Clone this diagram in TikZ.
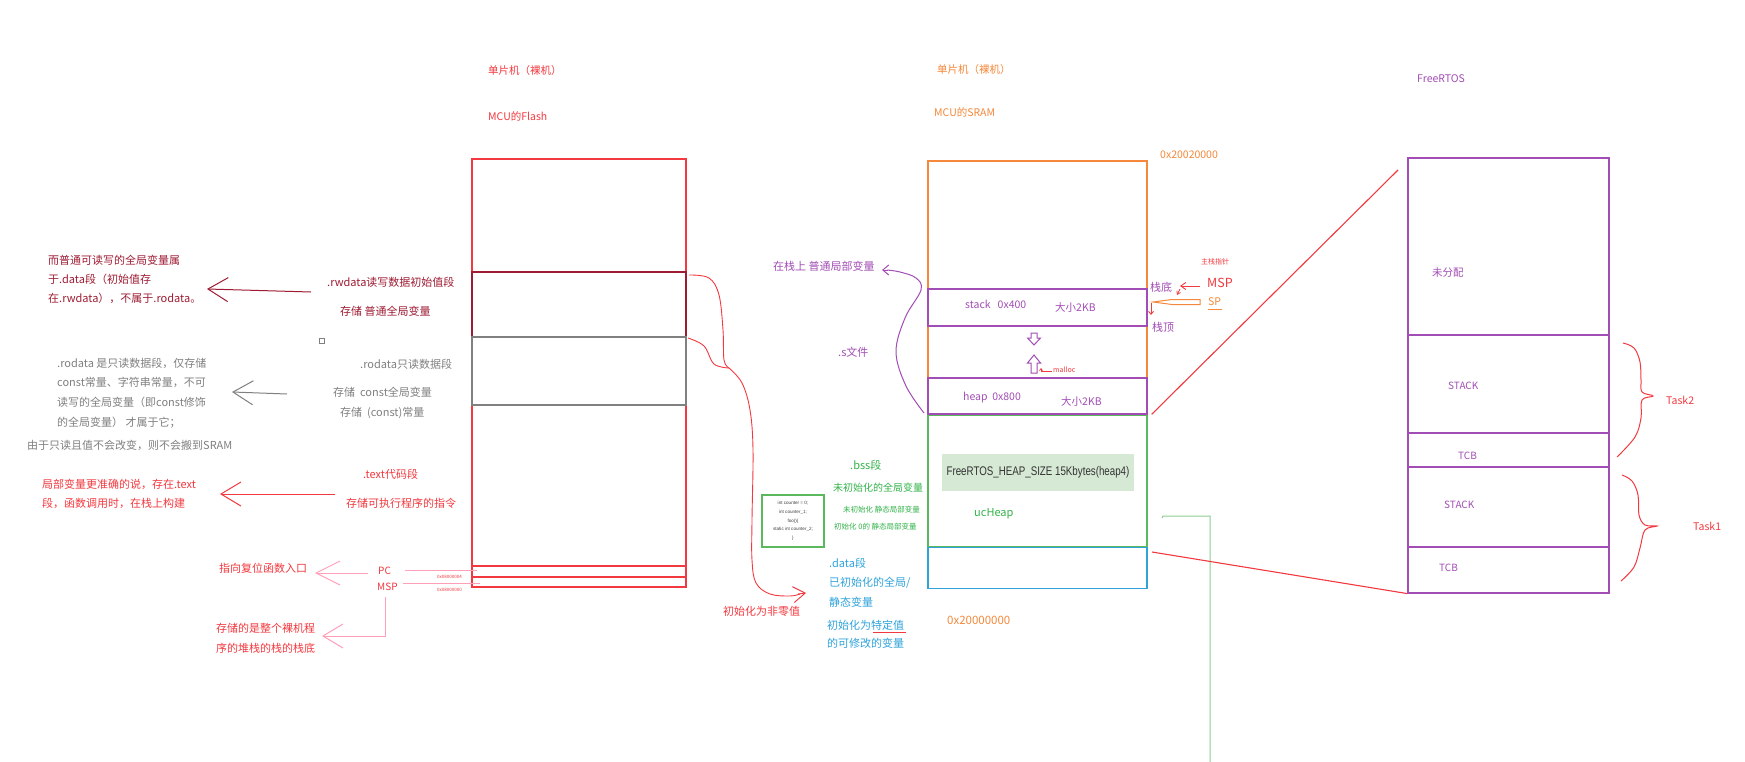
\documentclass[tikz,border=0pt]{standalone}
\usepackage{fontspec}
\setmainfont{Noto Sans CJK SC}
\newfontfamily\narrowfont{Liberation Sans}
\usetikzlibrary{arrows.meta}
\definecolor{cred}{HTML}{F2393F}
\definecolor{cdred}{HTML}{9E1B32}
\definecolor{cgray}{HTML}{808080}
\definecolor{corange}{HTML}{F5883A}
\definecolor{cpurple}{HTML}{A24DB5}
\definecolor{cgreen}{HTML}{5BB85D}
\definecolor{ctgreen}{HTML}{33B34A}
\definecolor{cblue}{HTML}{2FA3DA}
\definecolor{cpink}{HTML}{FF9FB8}
\definecolor{cfill}{HTML}{D6E9D5}
\newcommand\fsz[1]{\fontsize{#1}{#1}\selectfont}
\begin{document}
\begin{tikzpicture}[x=1pt,y=-1pt,
  lbl/.style={anchor=west, inner sep=0pt, font=\fsz{11}},
  small/.style={anchor=west, inner sep=0pt, font=\fsz{7.5}},
  tiny/.style={anchor=west, inner sep=0pt, font=\fsz{4.5}},
  region/.style={draw=#1, line width=1.4pt, inner sep=0pt},
  sketch/.style={line width=1pt, -{Straight Barb[length=#1pt,width=24pt]}},
  sketch/.default=20,
  hollow/.style={draw=cpurple, line width=1pt, line join=miter}
]
\useasboundingbox (0,0) rectangle (1745,762);
\fill[white] (0,0) rectangle (1745,762);

% ---------------- Flash ----------------
\node[lbl, text=cred, font=\fsz{10.5}] (flashT1) at (488,71) {单片机（裸机）};
\node[lbl, text=cred, font=\fsz{10.5}] (flashT2) at (488,116) {MCU的Flash};
\node[region=cred, minimum width=214pt, minimum height=428pt] (flash) at (579,373) {};
\node[region=cdred, minimum width=214pt, minimum height=65pt] (rwdata) at (579,304.5) {};
\node[region=cgray, minimum width=214pt, minimum height=68pt] (rodata) at (579,371) {};
\coordinate (fl1) at (472,566); \coordinate (fr1) at (686,566);
\coordinate (fl2) at (472,577); \coordinate (fr2) at (686,577);
\draw[cred, line width=1.4pt] (fl1) -- (fr1);
\draw[cred, line width=1.4pt] (fl2) -- (fr2);
\node[tiny, text=cred] (addr4) at (437,577) {0x08000004};
\node[tiny, text=cred] (addr0) at (437,590) {0x08000000};

% rwdata labels
\node[lbl, text=cdred] (rwT1) at (327,282) {.rwdata读写数据初始值段};
\node[lbl, text=cdred] (rwT2) at (340,311) {存储 普通全局变量};
\node[anchor=west, inner sep=0pt, align=left, text=cdred, font=\fontsize{11}{19}\selectfont] (rwNote) at (48,279)
  {而普通可读写的全局变量属\\于.data段（初始值存\\在.rwdata），不属于.rodata。};
\coordinate (a1s) at (311,292); \coordinate (a1e) at (207,289);
\draw[cdred, sketch] (a1s) -- (a1e);
\node[draw=cgray, line width=0.6pt, minimum size=5pt, inner sep=0pt] (sq) at (322,341) {};

% rodata labels
\node[lbl, text=cgray] (roT1) at (360,364) {.rodata只读数据段};
\node[lbl, text=cgray] (roT2) at (333,392) {存储\ \ const全局变量};
\node[lbl, text=cgray] (roT3) at (340,413) {存储\ \ (const)常量};
\node[anchor=west, inner sep=0pt, align=left, text=cgray, font=\fontsize{11}{19.7}\selectfont] (roNote) at (57,393)
  {.rodata 是只读数据段，仅存储\\const常量、字符串常量，不可\\读写的全局变量（即const修饰\\的全局变量） 才属于它；};
\node[lbl, text=cgray] (roNote2) at (27,445) {由于只读且值不会改变，则不会搬到SRAM};
\coordinate (a2s) at (287,394); \coordinate (a2e) at (232,392);
\draw[cgray, sketch] (a2s) -- (a2e);

% text labels
\node[lbl, text=cred] (txT1) at (363,474) {.text代码段};
\node[lbl, text=cred] (txT2) at (346,503) {存储可执行程序的指令};
\node[anchor=west, inner sep=0pt, align=left, text=cred, font=\fontsize{11}{19}\selectfont] (txNote) at (42,494)
  {局部变量更准确的说，存在.text\\段，函数调用时，在栈上构建};
\coordinate (a3s) at (335,494); \coordinate (a3e) at (220,494);
\draw[cred, sketch] (a3s) -- (a3e);

% PC / MSP
\node[lbl, text=cred, font=\fsz{10}] (pc) at (378,571) {PC};
\node[lbl, text=cred, font=\fsz{10}] (msp) at (377,587) {MSP};
\coordinate (pcL) at (405,570); \coordinate (pcR) at (477,570);
\coordinate (mspL) at (403,583); \coordinate (mspR) at (480,583);
\draw[cpink, line width=1pt] (pcL) -- (pcR);
\draw[cpink, line width=1pt] (mspL) -- (mspR);
\node[lbl, text=cred] (pcNote) at (219,568) {指向复位函数入口};
\coordinate (a4s) at (368,573); \coordinate (a4e) at (315,573);
\draw[cpink, sketch=24] (a4s) -- (a4e);
\node[anchor=west, inner sep=0pt, align=left, text=cred, font=\fontsize{11}{20}\selectfont] (mspNote) at (216,638)
  {存储的是整个裸机程\\序的堆栈的栈的栈底};
\coordinate (a5s) at (385,597); \coordinate (a5m) at (385,636); \coordinate (a5e) at (322,636);
\draw[cpink, sketch] (a5s) -- (a5m) -- (a5e);

% curve from flash to .data
\coordinate (c1) at (689,275); \coordinate (c2) at (688,338); \coordinate (cm) at (729,368); \coordinate (ce) at (806,593);
\draw[cred, line width=0.9pt] plot[smooth, tension=0.6] coordinates {(c1) (709,278) (719,295) (723,330) (724,360) (cm)};
\draw[cred, line width=0.9pt] plot[smooth, tension=0.6] coordinates {(c2) (704,346) (714,364) (cm)};
\draw[cred, line width=0.9pt] plot[smooth, tension=0.6] coordinates {(cm) (742,383) (750,410) (753,450) (752,520) (752,560) (756,583) (770,594) (790,596) (800,594)};
\draw[cred, line width=0.9pt, -{Straight Barb[length=12pt,width=16pt]}] (798,594) -- (ce);
\node[lbl, text=cred] (nz) at (723,611) {初始化为非零值};

% ---------------- SRAM ----------------
\node[lbl, text=corange, font=\fsz{10.5}] (sramT1) at (937,70) {单片机（裸机）};
\node[lbl, text=corange, font=\fsz{10.5}] (sramT2) at (934,112) {MCU的SRAM};
\node[lbl, text=corange, font=\fsz{10.5}] (top) at (1160,155) {0x20020000};
\node[lbl, text=corange, font=\fsz{11.5}] (bot) at (947,620) {0x20000000};
\node[region=corange, line width=1.3pt, minimum width=219pt, minimum height=217pt] (sram) at (1037.5,269.5) {};
\node[region=cpurple, minimum width=219pt, minimum height=37pt, fill=white] (stack) at (1037.5,307.5) {};
\node[region=cgreen, minimum width=219pt, minimum height=132pt] (ucheap) at (1037.5,481) {};
\node[region=cblue, minimum width=219pt, minimum height=41pt] (data) at (1037.5,568) {};
\node[region=cpurple, minimum width=219pt, minimum height=36pt] (heap) at (1037.5,396) {};
\node[lbl, text=cpurple, font=\fsz{10.5}] (stackT) at (965,304) {stack\ \ \ 0x400};
\node[lbl, text=cpurple, font=\fsz{10.5}] (stackS) at (1055,308) {大小2KB};
\node[lbl, text=cpurple, font=\fsz{10.5}] (heapT) at (963,398) {heap\ \ 0x800};
\node[lbl, text=cpurple, font=\fsz{10.5}] (heapS) at (1061,402) {大小2KB};
% growth arrows
\draw[hollow] (1031,333) -- (1037,333) -- (1037,338) -- (1040.5,338) -- (1034,345) -- (1027.5,338) -- (1031,338) -- cycle;
\draw[hollow] (1034,355) -- (1040.5,363) -- (1037,363) -- (1037,373) -- (1031,373) -- (1031,363) -- (1027.5,363) -- cycle;
\node[small, text=cred, font=\fsz{7}] (malloc) at (1053,370) {malloc};
\coordinate (mS) at (1052,371.5); \coordinate (mE) at (1041,368);
\draw[cred, line width=0.7pt, -{Straight Barb[length=2pt,width=3pt]}] (mS) -- (1041,371.5) -- (mE);

\node[draw=none, fill=cfill, minimum width=192pt, minimum height=37pt, inner sep=0pt] (hsize) at (1038,472.5)
  {\narrowfont\fsz{12.5}\color[HTML]{333333}\scalebox{0.78}[1]{FreeRTOS\_HEAP\_SIZE 15Kbytes(heap4)}};
\node[lbl, text=ctgreen] (uch) at (974,514) {ucHeap};
\coordinate (g0) at (1162,518); \coordinate (g1) at (1210,516); \coordinate (g2) at (1210,762);
\draw[cgreen!70, line width=1pt] (g0) -- (1163,516) -- (g1) -- (g2);

% left of SRAM
\node[lbl, text=cpurple] (local) at (773,266) {在栈上 普通局部变量};
\node[lbl, text=cpurple] (sfile) at (838,352) {.s文件};
\coordinate (p0) at (924,413); \coordinate (pe) at (882,270);
\draw[cpurple, line width=1pt] plot[smooth, tension=0.6] coordinates {(p0) (906,386) (896,352) (905,318) (921,290) (916,278) (900,272) (887,270)};
\draw[cpurple, line width=1pt, -{Straight Barb[length=6pt,width=10pt]}] (888,270) -- (pe);

\node[lbl, text=ctgreen] (bss) at (850,465) {.bss段};
\node[lbl, text=ctgreen, font=\fsz{10}] (bss1) at (833,488) {未初始化的全局变量};
\node[small, text=ctgreen] (bss2) at (843,510) {未初始化 静态局部变量};
\node[small, text=ctgreen] (bss3) at (834,527) {初始化 0的 静态局部变量};
\node[draw=cgreen, line width=1.4pt, minimum width=62pt, minimum height=52pt, inner sep=0pt, align=center,
  font=\narrowfont\fontsize{4.6}{8.6}\selectfont, text=black!75] (code) at (793,521)
  {int counter = 0;\\int counter\_1;\\foo()\{\\static int counter\_2;\\\}};
\node[lbl, text=cblue] (dataT) at (829,563) {.data段};
\node[anchor=west, inner sep=0pt, align=left, text=cblue, font=\fontsize{11}{19.5}\selectfont] (dataN) at (829,592.5)
  {已初始化的全局/\\静态变量};
\node[anchor=west, inner sep=0pt, align=left, text=cblue, font=\fontsize{11}{18}\selectfont] (dataN2) at (827,634)
  {初始化为特定值\\的可修改的变量};
\coordinate (u0) at (873,632); \coordinate (u1) at (906,632);
\draw[cred, line width=0.9pt] (u0) -- (u1);

% stack pointers
\node[lbl, text=cpurple] (sbot) at (1150,287) {栈底};
\node[lbl, text=cpurple] (stop) at (1152,327) {栈顶};
\node[small, text=cred, font=\fsz{7}] (mainsp) at (1201,262) {主栈指针};
\node[lbl, text=cred, font=\fsz{12.5}] (mspR) at (1207,283) {MSP};
\node[lbl, text=corange, font=\fsz{10.5}] (sp) at (1208,302) {SP};
\coordinate (s0) at (1208,309); \coordinate (s1) at (1222,309);
\draw[corange, line width=0.8pt] (s0) -- (s1);
\coordinate (m0) at (1200,286); \coordinate (m1) at (1180,286);
\draw[cred, line width=0.9pt, -{Straight Barb[length=5pt,width=7pt]}] (m0) -- (m1);
\coordinate (m2) at (1180,289); \coordinate (m3) at (1177,295);
\draw[cred, line width=0.8pt, -{Straight Barb[length=3pt,width=4pt]}] (m2) -- (m3);
\draw[corange, line width=1pt, line join=miter] (1200,299.5) -- (1172,299.5) -- (1153,302) -- (1172,304.5) -- (1200,304.5) -- cycle;
\coordinate (d0) at (1151,303); \coordinate (d1) at (1151,315);
\draw[cred, line width=0.9pt, -{Straight Barb[length=3pt,width=5pt]}] (d0) -- (d1);

% ---------------- FreeRTOS ----------------
\node[lbl, text=cpurple, font=\fsz{10.5}] (rtT) at (1417,79) {FreeRTOS};
\node[region=cpurple, line width=1.2pt, minimum width=201pt, minimum height=435pt] (rtos) at (1508.5,375.5) {};
\foreach \yy/\nm in {335/r1,433/r2,467/r3,547/r4} {
  \coordinate (\nm l) at (1408,\yy); \coordinate (\nm r) at (1609,\yy);
  \draw[cpurple, line width=1.2pt] (\nm l) -- (\nm r);
}
\node[lbl, text=cpurple, font=\fsz{10.5}] (unalloc) at (1432,273) {未分配};
\node[lbl, text=cpurple, font=\fsz{10}] (stk2) at (1448,386) {STACK};
\node[lbl, text=cpurple, font=\fsz{10}] (tcb2) at (1458,456) {TCB};
\node[lbl, text=cpurple, font=\fsz{10}] (stk1) at (1444,505) {STACK};
\node[lbl, text=cpurple, font=\fsz{10}] (tcb1) at (1439,568) {TCB};
\draw[cred, line width=1pt] plot[smooth, tension=0.6] coordinates {(1623,343) (1634,348) (1640,362) (1641,380) (1642,392) (1653,396) (1642,400) (1641,418) (1635,437) (1617,457)};
\draw[cred, line width=1pt] plot[smooth, tension=0.6] coordinates {(1622,475) (1632,481) (1638,495) (1639,515) (1645,525) (1657,526) (1645,530) (1640,548) (1634,567) (1621,581)};
\node[lbl, text=cred, font=\fsz{10.5}] (task2) at (1666,400) {Task2};
\node[lbl, text=cred, font=\fsz{10.5}] (task1) at (1693,526) {Task1};

% mapping lines
\draw[cred, line width=1.1pt] (ucheap.north east) ++(4,0) coordinate (k0) (k0) -- (1398,170) coordinate (k1);
\draw[cred, line width=1.1pt] (1152,552) coordinate (k2) -- (rtos.south west) ++(-11,0) coordinate (k3);
\end{tikzpicture}
\end{document}
